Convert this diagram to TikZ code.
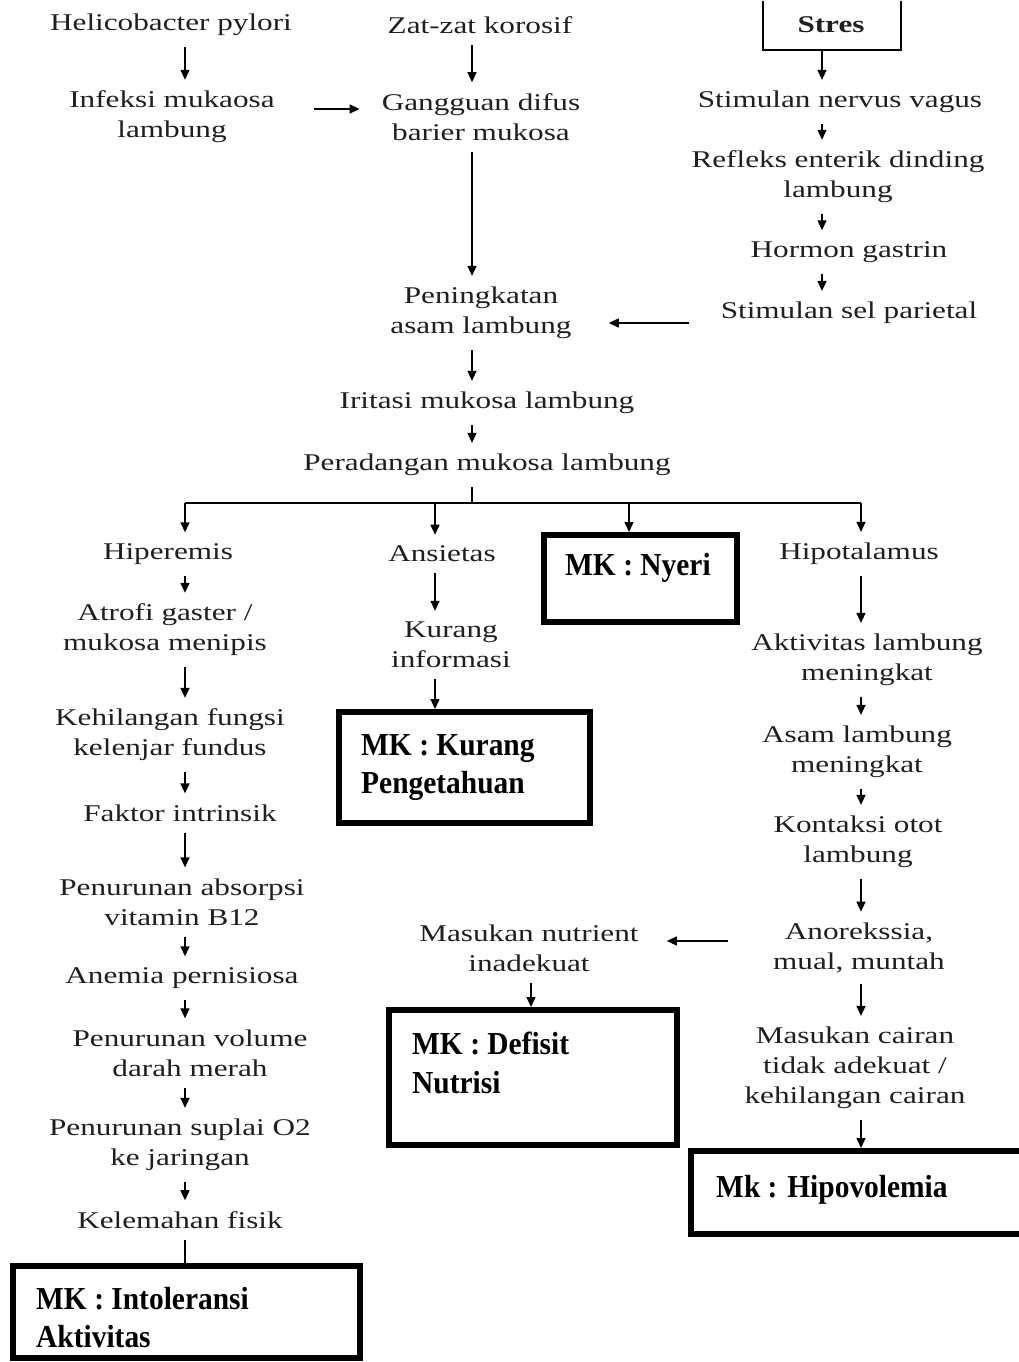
\documentclass[tikz,border=0pt]{standalone}
\usepackage{fontspec}
\setmainfont{Liberation Serif}[FakeStretch=1.3]
\newfontfamily\mkfont{Liberation Serif}[FakeStretch=0.92]
\usetikzlibrary{arrows.meta,calc}
\begin{document}
\begin{tikzpicture}[x=1pt,y=-1pt,
  txt/.style={font=\fontsize{24}{30}\selectfont, align=center, inner sep=0pt, text=black!88},
  arr/.style={-{Triangle[length=10pt,width=9pt]}, line width=1.4pt, shorten <=11pt, shorten >=11pt},
  ln/.style={line width=1.4pt},
  mkbox/.style={draw, line width=6pt, inner sep=0pt},
  mktxt/.style={font=\mkfont\fontsize{32}{38.5}\selectfont\bfseries, align=left, inner sep=0pt, anchor=north west}]
\useasboundingbox[fill=white] (0,0) rectangle (1019,1362);
\clip (0,2) rectangle (1019,1362);
% column coordinates
\coordinate (c1) at (185,0);
\coordinate (c2) at (472,0);
\coordinate (c3) at (822,0);
\coordinate (c4) at (861,0);
\coordinate (ca) at (435,0);
\coordinate (cn) at (629,0);
\coordinate (cm) at (531,0);
\coordinate (br) at (472,503);
\coordinate (stb) at (822,50);
% top row
\node[txt] (hp) at (171,25) {Helicobacter pylori};
\node[txt] (zk) at (480,25) {Zat-zat korosif};
\draw[ln] (763,-40) -- (763,50) -- (901,50) -- (901,-40);
\node[txt, font=\fontsize{24}{30}\selectfont\bfseries] (st) at (831,25) {Stres};
\node[txt] (im) at (172,117) {Infeksi mukaosa\\lambung};
\node[txt] (gd) at (481,117) {Gangguan difus\\barier mukosa};
\node[txt] (snv) at (840,102) {Stimulan nervus vagus};
\node[txt] (re) at (838,177) {Refleks enterik dinding\\lambung};
\node[txt] (hg) at (849,252) {Hormon gastrin};
\node[txt] (spr) at (849,313) {Stimulan sel parietal};
\node[txt] (pen) at (481,313) {Peningkatan\\asam lambung};
\node[txt] (irm) at (487,403) {Iritasi mukosa lambung};
\node[txt] (pm) at (487,465) {Peradangan mukosa lambung};
% branch 1
\node[txt] (hip) at (168,554) {Hiperemis};
\node[txt] (atr) at (165,630) {Atrofi gaster /\\mukosa menipis};
\node[txt] (kf) at (170,735) {Kehilangan fungsi\\kelenjar fundus};
\node[txt] (fi) at (180,813) {Faktor intrinsik};
\node[txt] (pab) at (182,902) {Penurunan absorpsi\\vitamin B12};
\node[txt] (ap) at (182,978) {Anemia pernisiosa};
\node[txt] (pvd) at (190,1053) {Penurunan volume\\darah merah};
\node[txt] (pso) at (180,1145) {Penurunan suplai O2\\ke jaringan};
\node[txt] (kfs) at (180,1220) {Kelemahan fisik};
\node[mkbox, minimum width=347pt, minimum height=92pt] (bint) at (186.5,1312) {};
\node[mktxt] (tint) at (36,1287) {MK : Intoleransi\\Aktivitas};
% branch 2
\node[txt] (ans) at (442,554) {Ansietas};
\node[txt] (ki) at (451,645) {Kurang\\informasi};
\node[mkbox, minimum width=251pt, minimum height=111pt] (bkur) at (464.5,767.5) {};
\node[mktxt] (tkur) at (361,734) {MK : Kurang\\Pengetahuan};
% branch 3
\node[mkbox, minimum width=193pt, minimum height=87pt] (bny) at (640.5,578.5) {};
\node[mktxt] (tny) at (565,553) {MK : Nyeri};
% branch 4
\node[txt] (hipo) at (859,554) {Hipotalamus};
\node[txt] (alm) at (867,660) {Aktivitas lambung\\meningkat};
\node[txt] (alm2) at (857,752) {Asam lambung\\meningkat};
\node[txt] (kot) at (858,842) {Kontaksi otot\\lambung};
\node[txt] (ano) at (859,948) {Anorekssia,\\mual, muntah};
\node[txt] (mni) at (529,948) {Masukan nutrient\\inadekuat};
\node[mkbox, minimum width=288pt, minimum height=135pt] (bdef) at (533,1077.5) {};
\node[mktxt] (tdef) at (412,1032) {MK : Defisit\\Nutrisi};
\node[txt] (mc) at (855,1068) {Masukan cairan\\tidak adekuat /\\kehilangan cairan};
\node[mkbox, minimum width=331pt, minimum height=83pt] (bhip) at (856.5,1192.5) {};
\node[mktxt] (thip) at (716,1175) {Mk : Hipovolemia};
% connectors top
\draw[arr] (hp.south -| c1) -- (im.north -| c1);
\draw[arr] (zk.south -| c2) -- (gd.north -| c2);
\draw[arr, shorten <=0pt] (stb) -- (snv.north -| c3);
\draw[arr, shorten <=39pt, shorten >=22pt] ([yshift=8pt]im.east) -- ([yshift=8pt]im.east -| gd.west);
\draw[arr] (gd.south -| c2) -- (pen.north -| c2);
\draw[arr] (snv.south -| c3) -- (re.north -| c3);
\draw[arr] (re.south -| c3) -- (hg.north -| c3);
\draw[arr] (hg.south -| c3) -- (spr.north -| c3);
\draw[arr, shorten <=32pt, shorten >=37pt] ([yshift=-10pt]spr.west) -- ([yshift=-10pt]spr.west -| pen.east);
\draw[arr] (pen.south -| c2) -- (irm.north -| c2);
\draw[arr] (irm.south -| c2) -- (pm.north -| c2);
% branching
\draw[ln, shorten <=11pt] (pm.south -| c2) -- (br);
\draw[ln] (br -| c1) -- (br -| c4);
\draw[arr, shorten <=0pt] (br -| c1) -- (hip.north -| c1);
\draw[arr, shorten <=0pt] (br -| ca) -- (ans.north -| ca);
\draw[arr, shorten <=0pt, shorten >=0pt] (br -| cn) -- (bny.north -| cn);
\draw[arr, shorten <=0pt] (br -| c4) -- (hipo.north -| c4);
% branch 1 connectors
\draw[arr] (hip.south -| c1) -- (atr.north -| c1);
\draw[arr] (atr.south -| c1) -- (kf.north -| c1);
\draw[arr] (kf.south -| c1) -- (fi.north -| c1);
\draw[arr] (fi.south -| c1) -- (pab.north -| c1);
\draw[arr] (pab.south -| c1) -- (ap.north -| c1);
\draw[arr] (ap.south -| c1) -- (pvd.north -| c1);
\draw[arr] (pvd.south -| c1) -- (pso.north -| c1);
\draw[arr] (pso.south -| c1) -- (kfs.north -| c1);
\draw[ln, shorten <=11pt] (kfs.south -| c1) -- (bint.north -| c1);
% branch 2 connectors
\draw[arr] (ans.south -| ca) -- (ki.north -| ca);
\draw[arr, shorten >=0pt] (ki.south -| ca) -- (bkur.north -| ca);
% branch 4 connectors
\draw[arr] (hipo.south -| c4) -- (alm.north -| c4);
\draw[arr] (alm.south -| c4) -- (alm2.north -| c4);
\draw[arr] (alm2.south -| c4) -- (kot.north -| c4);
\draw[arr] (kot.south -| c4) -- (ano.north -| c4);
\draw[arr, shorten <=45pt, shorten >=28pt] ([yshift=7pt]ano.west) -- ([yshift=7pt]ano.west -| mni.east);
\draw[arr, shorten >=0pt] (mni.south -| cm) -- (bdef.north -| cm);
\draw[arr] (ano.south -| c4) -- (mc.north -| c4);
\draw[arr, shorten >=0pt] (mc.south -| c4) -- (bhip.north -| c4);
\end{tikzpicture}
\end{document}
